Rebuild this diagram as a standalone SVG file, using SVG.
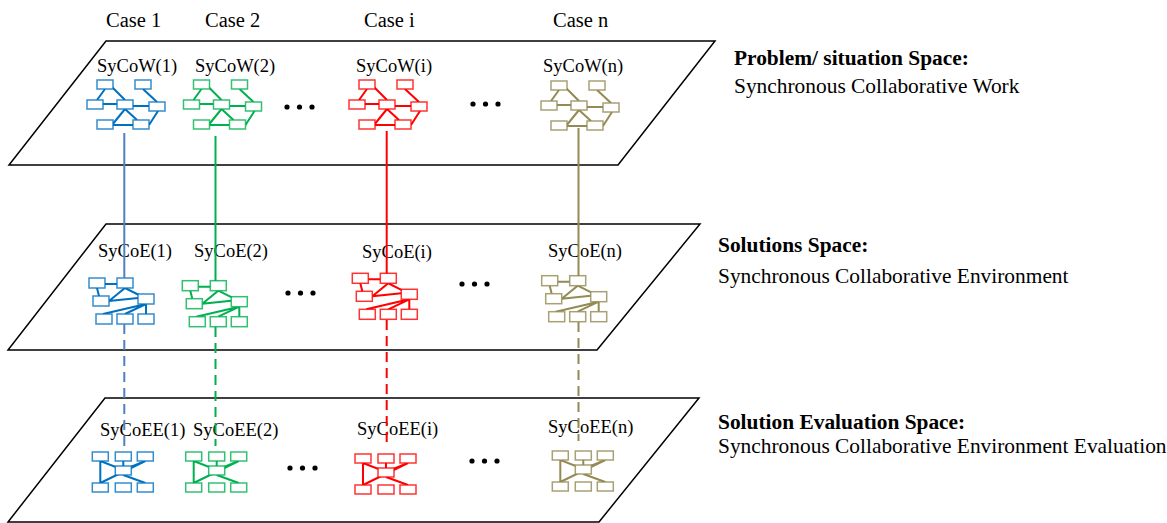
<svg xmlns="http://www.w3.org/2000/svg" xmlns:xlink="http://www.w3.org/1999/xlink" width="1167" height="523" viewBox="0 0 1167 523">
<style>
.plane{fill:none;stroke:#000;stroke-width:1.5}
.lbl{font-family:"Liberation Serif","Times New Roman",serif;font-size:18.5px;fill:#000}
.case{font-family:"Liberation Serif","Times New Roman",serif;font-size:20.5px;fill:#000}
.sp{font-family:"Liberation Serif","Times New Roman",serif;font-size:21.4px;fill:#000}
.b{font-weight:bold}
.e{stroke:currentColor;stroke-width:2;fill:none}
.bx{stroke:currentColor;stroke-width:1.5;fill:#fff;stroke-opacity:0.8}
.c{stroke-width:2;fill:none}
.d{stroke-dasharray:10,6}
.blue{color:#0070C0}.green{color:#00B050}.red{color:#FF0000}.tan{color:#948A54}
</style>
<defs>
<g id="tw">
<path class="e" d="M18,9L10,20M25,7L38,20M16,24H30M46,26H62M56,9L70,22M38,29L25,45M38,29L50,40M26,45H46M71,31L62,45"/>
<rect class="bx" x="10" y="0" width="16" height="9"/>
<rect class="bx" x="48" y="0" width="16" height="9"/>
<rect class="bx" x="0" y="20" width="16" height="9"/>
<rect class="bx" x="30" y="20" width="16" height="9"/>
<rect class="bx" x="62" y="22" width="16" height="9"/>
<rect class="bx" x="10" y="40" width="16" height="9"/>
<rect class="bx" x="46" y="40" width="16" height="9"/>
</g>
<g id="te">
<path class="e" d="M16,6H28M8,10L10,18M20,23L36,10L50,17M20,23L49,20M57,26L14,36M57,26L36,36M57,26V36"/>
<rect class="bx" x="0" y="0" width="16" height="10"/>
<rect class="bx" x="28" y="0" width="16" height="10"/>
<rect class="bx" x="4" y="18" width="16" height="10"/>
<rect class="bx" x="49" y="16" width="16" height="10"/>
<rect class="bx" x="7" y="36" width="16" height="10"/>
<rect class="bx" x="28" y="36" width="16" height="10"/>
<rect class="bx" x="49" y="36" width="16" height="10"/>
</g>
<g id="tee">
<path class="e" d="M8,9V31M8,9L31,18L53,9M8,31L53,9M31,23L53,31M31,9V14"/>
<rect class="bx" x="0" y="0" width="16" height="9"/>
<rect class="bx" x="23" y="0" width="16" height="9"/>
<rect class="bx" x="45" y="0" width="16" height="9"/>
<rect class="bx" x="23" y="14" width="16" height="9"/>
<rect class="bx" x="0" y="31" width="16" height="9"/>
<rect class="bx" x="23" y="31" width="16" height="9"/>
<rect class="bx" x="45" y="31" width="16" height="9"/>
</g>
</defs>

<g id="planes">
<polygon class="plane" points="106,41 715,41 618,165 9,165"/>
<polygon class="plane" points="106,224 700,224 597,350 8,350"/>
<polygon class="plane" points="105,398 699,398 599,522 8,522"/>
</g>

<g id="case-labels">
<text class="case" x="106" y="27">Case 1</text>
<text class="case" x="205" y="27">Case 2</text>
<text class="case" x="364" y="27">Case i</text>
<text class="case" x="553" y="27">Case n</text>
</g>

<g id="space-labels">
<text class="sp b" x="734" y="65">Problem/ situation Space:</text>
<text class="sp" x="734" y="93">Synchronous Collaborative Work</text>
<text class="sp b" x="718" y="252">Solutions Space:</text>
<text class="sp" x="718" y="283">Synchronous Collaborative Environment</text>
<text class="sp b" x="718" y="429">Solution Evaluation Space:</text>
<text class="sp" x="718" y="453">Synchronous Collaborative Environment Evaluation</text>
</g>

<g id="sycow1"><text class="lbl" x="97" y="72">SyCoW(1)</text><use xlink:href="#tw" href="#tw" x="87" y="80" class="blue"/></g>
<g id="sycow2"><text class="lbl" x="195" y="72">SyCoW(2)</text><use xlink:href="#tw" href="#tw" x="183.5" y="80" class="green"/></g>
<g id="sycowi"><text class="lbl" x="356" y="72">SyCoW(i)</text><use xlink:href="#tw" href="#tw" x="349" y="80" class="red"/></g>
<g id="sycown"><text class="lbl" x="543" y="72">SyCoW(n)</text><use xlink:href="#tw" href="#tw" x="541" y="81" class="tan"/></g>

<g id="syco1"><text class="lbl" x="98" y="257">SyCoE(1)</text><use xlink:href="#te" href="#te" x="89" y="278" class="blue"/></g>
<g id="syco2"><text class="lbl" x="194" y="257">SyCoE(2)</text><use xlink:href="#te" href="#te" x="182.3" y="280.7" class="green"/></g>
<g id="sycoi"><text class="lbl" x="362" y="258">SyCoE(i)</text><use xlink:href="#te" href="#te" x="352.3" y="273.3" class="red"/></g>
<g id="sycon"><text class="lbl" x="548" y="257">SyCoE(n)</text><use xlink:href="#te" href="#te" x="541.7" y="275.7" class="tan"/></g>

<g id="sycoee1"><text class="lbl" x="100" y="436">SyCoEE(1)</text><use xlink:href="#tee" href="#tee" x="92.3" y="452" class="blue"/></g>
<g id="sycoee2"><text class="lbl" x="193" y="436">SyCoEE(2)</text><use xlink:href="#tee" href="#tee" x="185.7" y="452" class="green"/></g>
<g id="sycoeei"><text class="lbl" x="357" y="435">SyCoEE(i)</text><use xlink:href="#tee" href="#tee" x="355" y="454" class="red"/></g>
<g id="sycoeen"><text class="lbl" x="548" y="433">SyCoEE(n)</text><use xlink:href="#tee" href="#tee" x="552.3" y="451" class="tan"/></g>

<g id="ellipses" fill="#000">
<circle cx="287" cy="107" r="2.6"/><circle cx="299.5" cy="107" r="2.6"/><circle cx="312" cy="107" r="2.6"/>
<circle cx="473" cy="104" r="2.6"/><circle cx="485.5" cy="104" r="2.6"/><circle cx="498" cy="104" r="2.6"/>
<circle cx="288" cy="293" r="2.6"/><circle cx="300.5" cy="293" r="2.6"/><circle cx="313" cy="293" r="2.6"/>
<circle cx="462" cy="284" r="2.6"/><circle cx="474.5" cy="284" r="2.6"/><circle cx="487" cy="284" r="2.6"/>
<circle cx="290" cy="468" r="2.6"/><circle cx="302.5" cy="468" r="2.6"/><circle cx="315" cy="468" r="2.6"/>
<circle cx="472" cy="461" r="2.6"/><circle cx="484.5" cy="461" r="2.6"/><circle cx="497" cy="461" r="2.6"/>
</g>

<g id="connectors">
<line class="c" x1="124.3" y1="133" x2="124.3" y2="278" stroke="#4F81BD"/>
<line class="c d" x1="124.3" y1="324" x2="124.3" y2="446" stroke="#4F81BD"/>
<line class="c" x1="215.5" y1="136" x2="215.5" y2="281" stroke="#00B050"/>
<line class="c d" x1="215.5" y1="327" x2="215.5" y2="446" stroke="#00B050"/>
<line class="c" x1="386.7" y1="131" x2="386.7" y2="273.5" stroke="#FF0000"/>
<line class="c d" x1="386.7" y1="320" x2="386.7" y2="443" stroke="#FF0000"/>
<line class="c" x1="578.5" y1="128" x2="578.5" y2="276" stroke="#948A54"/>
<line class="c d" x1="578.5" y1="322" x2="578.5" y2="441" stroke="#948A54"/>
</g>
</svg>
